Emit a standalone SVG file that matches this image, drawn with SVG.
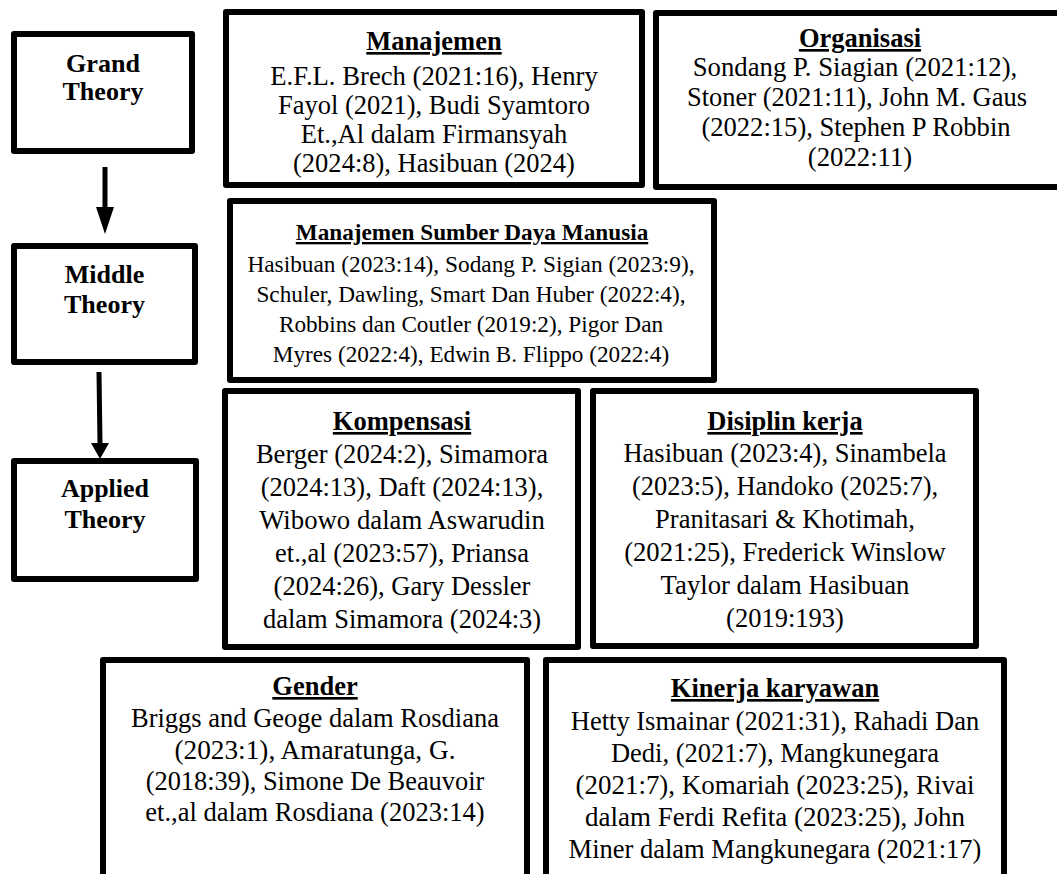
<svg xmlns="http://www.w3.org/2000/svg" width="1057" height="874" viewBox="0 0 1057 874">
<style>
.box{fill:#fff;stroke:#000;stroke-width:6;stroke-linejoin:round}
.conn{stroke:#000;stroke-width:5;fill:none}
.head{fill:#000;stroke:none}
text{font-family:"Liberation Serif","Times New Roman",Tinos,serif;font-size:26.5px;fill:#000;text-anchor:middle}
.b{font-weight:bold;font-size:26px}
.t{font-weight:bold;text-decoration:underline}
.s{font-size:23.2px}
</style>
<rect width="1057" height="874" fill="#fff"/>
<g id="grand">
<rect class="box" x="14" y="34" width="178" height="117"/>
<text class="b" x="103" y="72" textLength="74" lengthAdjust="spacingAndGlyphs">Grand</text>
<text class="b" x="103" y="100" textLength="81" lengthAdjust="spacingAndGlyphs">Theory</text>
</g>
<g id="middle">
<rect class="box" x="14" y="246" width="181" height="116"/>
<text class="b" x="104.5" y="283" textLength="79.5" lengthAdjust="spacingAndGlyphs">Middle</text>
<text class="b" x="104.5" y="313" textLength="81" lengthAdjust="spacingAndGlyphs">Theory</text>
</g>
<g id="applied">
<rect class="box" x="14" y="461" width="182" height="118"/>
<text class="b" x="105" y="497" textLength="88" lengthAdjust="spacingAndGlyphs">Applied</text>
<text class="b" x="105" y="528" textLength="81" lengthAdjust="spacingAndGlyphs">Theory</text>
</g>
<g id="connectors">
<path class="conn" d="M105,167 L105,208"/>
<polygon class="head" points="96,207 114,207 105,234"/>
<path class="conn" d="M99,372 L100,444"/>
<polygon class="head" points="91,443 109,443 100,459"/>
</g>
<g id="manajemen">
<rect class="box" x="226" y="12" width="416" height="173"/>
<text class="t" x="434" y="50" textLength="135.4" lengthAdjust="spacingAndGlyphs">Manajemen</text>
<text x="434" y="85" textLength="327.5" lengthAdjust="spacingAndGlyphs">E.F.L. Brech (2021:16), Henry</text>
<text x="434" y="114" textLength="312.1" lengthAdjust="spacingAndGlyphs">Fayol (2021), Budi Syamtoro</text>
<text x="434" y="143" textLength="266.5" lengthAdjust="spacingAndGlyphs">Et.,Al dalam Firmansyah</text>
<text x="434" y="172" textLength="281.9" lengthAdjust="spacingAndGlyphs">(2024:8), Hasibuan (2024)</text>
</g>
<g id="organisasi">
<rect class="box" x="656" y="13" width="408" height="174"/>
<text class="t" x="860" y="47" textLength="122.2" lengthAdjust="spacingAndGlyphs">Organisasi</text>
<text x="855" y="76" textLength="324.6" lengthAdjust="spacingAndGlyphs">Sondang P. Siagian (2021:12),</text>
<text x="857" y="106" textLength="340" lengthAdjust="spacingAndGlyphs">Stoner (2021:11), John M. Gaus</text>
<text x="856" y="136" textLength="309.2" lengthAdjust="spacingAndGlyphs">(2022:15), Stephen P Robbin</text>
<text x="860" y="166" textLength="104.5" lengthAdjust="spacingAndGlyphs">(2022:11)</text>
</g>
<g id="msdm">
<rect class="box" x="230" y="201" width="484" height="179"/>
<text class="t s" x="472" y="240" textLength="352.5" lengthAdjust="spacingAndGlyphs">Manajemen Sumber Daya Manusia</text>
<text class="s" x="471" y="272" textLength="447.2" lengthAdjust="spacingAndGlyphs">Hasibuan (2023:14), Sodang P. Sigian (2023:9),</text>
<text class="s" x="471" y="302" textLength="429.1" lengthAdjust="spacingAndGlyphs">Schuler, Dawling, Smart Dan Huber (2022:4),</text>
<text class="s" x="471" y="332" textLength="384.1" lengthAdjust="spacingAndGlyphs">Robbins dan Coutler (2019:2), Pigor Dan</text>
<text class="s" x="471" y="362" textLength="396.3" lengthAdjust="spacingAndGlyphs">Myres (2022:4), Edwin B. Flippo (2022:4)</text>
</g>
<g id="kompensasi">
<rect class="box" x="225" y="391" width="353" height="256"/>
<text class="t" x="402" y="430" textLength="138.4" lengthAdjust="spacingAndGlyphs">Kompensasi</text>
<text x="402" y="463" textLength="292.2" lengthAdjust="spacingAndGlyphs">Berger (2024:2), Simamora</text>
<text x="402" y="496" textLength="282.6" lengthAdjust="spacingAndGlyphs">(2024:13), Daft (2024:13),</text>
<text x="402" y="529" textLength="285.6" lengthAdjust="spacingAndGlyphs">Wibowo dalam Aswarudin</text>
<text x="402" y="562" textLength="253.9" lengthAdjust="spacingAndGlyphs">et.,al (2023:57), Priansa</text>
<text x="402" y="595" textLength="256.8" lengthAdjust="spacingAndGlyphs">(2024:26), Gary Dessler</text>
<text x="402" y="628" textLength="278.2" lengthAdjust="spacingAndGlyphs">dalam Simamora (2024:3)</text>
</g>
<g id="disiplin">
<rect class="box" x="593" y="391" width="383" height="255"/>
<text class="t" x="785" y="430" textLength="155.3" lengthAdjust="spacingAndGlyphs">Disiplin kerja</text>
<text x="785" y="462" textLength="323.1" lengthAdjust="spacingAndGlyphs">Hasibuan (2023:4), Sinambela</text>
<text x="785" y="495" textLength="306.2" lengthAdjust="spacingAndGlyphs">(2023:5), Handoko (2025:7),</text>
<text x="785" y="528" textLength="259.8" lengthAdjust="spacingAndGlyphs">Pranitasari &amp; Khotimah,</text>
<text x="785" y="561" textLength="321.6" lengthAdjust="spacingAndGlyphs">(2021:25), Frederick Winslow</text>
<text x="785" y="594" textLength="248.8" lengthAdjust="spacingAndGlyphs">Taylor dalam Hasibuan</text>
<text x="785" y="627" textLength="117.8" lengthAdjust="spacingAndGlyphs">(2019:193)</text>
</g>
<g id="gender">
<rect class="box" x="103" y="660" width="424" height="240"/>
<text class="t" x="315" y="695" textLength="85.4" lengthAdjust="spacingAndGlyphs">Gender</text>
<text x="315" y="727" textLength="368" lengthAdjust="spacingAndGlyphs">Briggs and Geoge dalam Rosdiana</text>
<text x="315" y="759" textLength="281.1" lengthAdjust="spacingAndGlyphs">(2023:1), Amaratunga, G.</text>
<text x="315" y="790" textLength="338.7" lengthAdjust="spacingAndGlyphs">(2018:39), Simone De Beauvoir</text>
<text x="315" y="821" textLength="339.3" lengthAdjust="spacingAndGlyphs">et.,al dalam Rosdiana (2023:14)</text>
</g>
<g id="kinerja">
<rect class="box" x="546" y="660" width="458" height="240"/>
<text class="t" x="775" y="697" textLength="208.3" lengthAdjust="spacingAndGlyphs">Kinerja karyawan</text>
<text x="775" y="730" textLength="408.5" lengthAdjust="spacingAndGlyphs">Hetty Ismainar (2021:31), Rahadi Dan</text>
<text x="775" y="762" textLength="328.2" lengthAdjust="spacingAndGlyphs">Dedi, (2021:7), Mangkunegara</text>
<text x="775" y="794" textLength="398.9" lengthAdjust="spacingAndGlyphs">(2021:7), Komariah (2023:25), Rivai</text>
<text x="775" y="826" textLength="379.8" lengthAdjust="spacingAndGlyphs">dalam Ferdi Refita (2023:25), John</text>
<text x="775" y="858" textLength="412.8" lengthAdjust="spacingAndGlyphs">Miner dalam Mangkunegara (2021:17)</text>
</g>
</svg>
